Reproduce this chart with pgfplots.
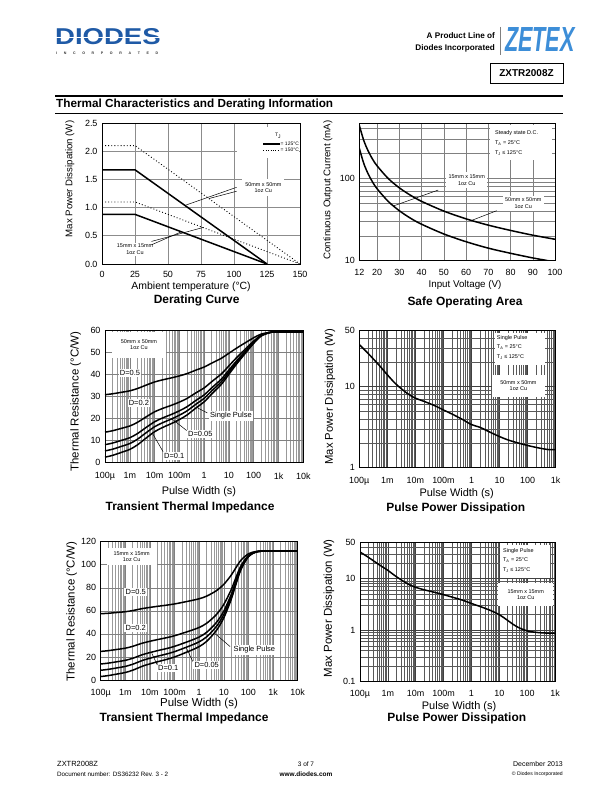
\documentclass[border=0pt]{standalone}
\usepackage{fontspec}
\setmainfont{Liberation Sans}
\usepackage{pgfplots}
\pgfplotsset{compat=1.18}

\definecolor{diodesblue}{HTML}{1F5AA6}
\definecolor{zetexblue}{HTML}{3D8ED8}
\newcommand{\fsz}[1]{\fontsize{#1}{#1}\selectfont}

\pgfplotsset{
  sheet/.style={
    scale only axis, anchor=south west,
    clip mode=individual,
    axis line style={line width=0.8bp},
    major tick length=0pt, minor tick length=0pt,
    /pgf/number format/assume math mode=true,
    every tick label/.append style={font=\fsz{9}},
    yticklabel style={xshift=-1bp},
    grid=both,
    xlabel style={anchor=center},
    ylabel style={anchor=center},
  },
  minorA/.style={minor xtick={2e-4,3e-4,4e-4,5e-4,6e-4,7e-4,8e-4,9e-4,2e-3,3e-3,4e-3,5e-3,6e-3,7e-3,8e-3,9e-3,0.02,0.03,0.04,0.05,0.06,0.07,0.08,0.09,0.2,0.3,0.4,0.5,0.6,0.7,0.8,0.9,2,3,4,5,6,7,8,9,20,30,40,50,60,70,80,90,200,300,400,500,600,700,800,900,2000,3000,4000,5000,6000,7000,8000,9000}},
  minorB/.style={minor xtick={2e-4,3e-4,4e-4,5e-4,6e-4,7e-4,8e-4,9e-4,2e-3,3e-3,4e-3,5e-3,6e-3,7e-3,8e-3,9e-3,0.02,0.03,0.04,0.05,0.06,0.07,0.08,0.09,0.2,0.3,0.4,0.5,0.6,0.7,0.8,0.9,2,3,4,5,6,7,8,9,20,30,40,50,60,70,80,90,200,300,400,500,600,700,800,900}},
}
\tikzset{
  curve/.style={line width=1.5bp, black, no marks, smooth},
  lbl/.style={fill=white, inner sep=1.5bp, align=center, font=\fontsize{5.5}{6.6}\selectfont},
  dlbl/.style={fill=white, inner sep=1.2bp, font=\fsz{7.5}},
  lead/.style={line width=0.5bp, black},
  ttl/.style={font=\bfseries\fsz{12}},
}

\begin{document}
\begin{tikzpicture}
\useasboundingbox (0,0) rectangle (612bp,792bp);
\fill[white] (0,0) rectangle (612bp,792bp);

\begin{scope}[x=1bp,y=-1bp,yshift=792bp]
% header
\node[anchor=west, inner sep=0, text=diodesblue, font=\bfseries\fsz{23}, xscale=1.2] at (55,37) {DIODES};
\draw[white, line width=0.8bp] (55,37.5) -- (162,37.5);
\node[anchor=west, inner sep=0, text=black!80, font=\bfseries\fsz{3.6}] at (56,53) {\makebox[102bp][s]{I N C O R P O R A T E D}};
\draw[black!50, line width=0.6bp] (500,27) -- (500,55);
\node[anchor=west, inner sep=0, text=zetexblue, font=\bfseries\itshape\fsz{35}, xscale=0.62] at (505,40) {ZETEX};
\node[anchor=east, inner sep=0, font=\bfseries\fsz{8.2}] at (495,36) {A Product Line of};
\node[anchor=east, inner sep=0, font=\bfseries\fsz{8.2}] at (495,48) {Diodes Incorporated};
\draw[line width=0.8bp] (490,63) rectangle (563,83);
\node[inner sep=0, font=\bfseries\fsz{10}] at (526.5,73) {ZXTR2008Z};
\draw[line width=1.3bp] (55,96) -- (563,96);
\draw[line width=0.7bp] (55,113) -- (563,113);
\node[anchor=west, inner sep=0, font=\bfseries\fsz{11.8}] at (56,104.5) {Thermal Characteristics and Derating Information};
% footer
\node[anchor=west, inner sep=0, font=\fsz{7.5}] at (57,764) {ZXTR2008Z};
\node[anchor=west, inner sep=0, font=\fsz{6.3}] at (57,774) {Document number: DS36232 Rev. 3 - 2};
\node[inner sep=0, font=\fsz{6.5}] at (306,764) {3 of 7};
\node[inner sep=0, font=\bfseries\fsz{6.5}] at (306,774) {www.diodes.com};
\node[anchor=east, inner sep=0, font=\fsz{7}] at (563,764) {December 2013};
\node[anchor=east, inner sep=0, font=\fsz{5.1}] at (563,774) {\textcopyright{} Diodes Incorporated};
\end{scope}

% ---------- Chart 1: Derating curve
\begin{axis}[sheet, at={(102bp,528bp)}, width=198bp, height=141bp,
  xmin=0, xmax=150, ymin=0, ymax=2.5,
  xtick={0,25,50,75,100,125,150},
  ytick={0,0.5,1,1.5,2,2.5}, yticklabels={0.0,0.5,1.0,1.5,2.0,2.5},
  grid=major,
  major grid style={line width=0.6bp, black!45},
  xticklabel style={yshift=-3.5bp},
  xlabel={Ambient temperature (°C)},
  xlabel style={at={(axis description cs:0.45,-0.163)}, font=\fsz{10.5}},
  ylabel={Max Power Dissipation (W)},
  ylabel style={at={(axis description cs:-0.162,0.603)}, font=\fsz{9.7}},
]
\fill[white] (axis description cs:0.682,0.752) rectangle (axis description cs:0.993,0.975);
\node[font=\fsz{5}] at (axis description cs:0.89,0.908) {T\textsubscript{J}};
\draw[line width=1.5bp] (axis description cs:0.815,0.851) -- (axis description cs:0.899,0.851);
\node[anchor=west, inner sep=0.5bp, font=\fsz{5}] at (axis description cs:0.899,0.851) {= 125°C};
\draw[line width=0.8bp, dash pattern=on 0.8bp off 1.6bp] (axis description cs:0.815,0.809) -- (axis description cs:0.899,0.809);
\node[anchor=west, inner sep=0.5bp, font=\fsz{5}] at (axis description cs:0.899,0.809) {= 150°C};
\node[lbl, inner sep=3bp] at (axis description cs:0.815,0.541) {50mm x 50mm\\1oz Cu};
\node[lbl] at (axis description cs:0.167,0.104) {15mm x 15mm\\1oz Cu};
\draw[lead] (axis cs:102,1.36) -- (axis cs:63,1.04);
\draw[lead] (axis cs:102,1.29) -- (axis cs:81,1.16);
\draw[lead] (axis cs:37.5,0.40) -- (axis cs:77,0.65);
\draw[lead] (axis cs:37.5,0.34) -- (axis cs:60,0.57);
\addplot[curve, sharp plot] coordinates {(0,1.67) (25,1.67) (125,0)};
\addplot[curve, sharp plot] coordinates {(0,0.88) (25,0.88) (125,0)};
\addplot[black, line width=0.9bp, dash pattern=on 0.9bp off 2.2bp, sharp plot, no marks] coordinates {(0,2.1) (25,2.1) (150,0)};
\addplot[black, line width=0.9bp, dash pattern=on 0.9bp off 2.2bp, sharp plot, no marks] coordinates {(0,1.1) (25,1.1) (150,0)};
\node[ttl] at (axis description cs:0.478,-0.255) {Derating Curve};
\end{axis}

% ---------- Chart 2: SOA
\begin{axis}[sheet, at={(359.3bp,531.3bp)}, width=195.7bp, height=137.4bp,
  xmin=12, xmax=100, ymode=log, ymin=10, ymax=465,
  xtick={12,20,30,40,50,60,70,80,90,100},
  ytick={10,100}, yticklabels={10,100},
  minor ytick={20,30,40,50,60,70,80,90,200,300,400},
  major grid style={line width=0.5bp, black!50},
  minor grid style={line width=0.5bp, black!50},
  xticklabel style={yshift=-5bp},
  xlabel={Input Voltage (V)},
  xlabel style={at={(axis description cs:0.54,-0.18)}, font=\fsz{9.8}},
  ylabel={Continuous Output Current (mA)},
  ylabel style={at={(axis description cs:-0.161,0.515)}, font=\fsz{9.7}},
]
\fill[white] (axis description cs:0.67,0.73) rectangle (axis description cs:0.985,0.985);
\node[anchor=north west, inner sep=0, align=left, font=\fontsize{5.5}{10}\selectfont] at (axis description cs:0.693,0.951) {Steady state D.C.\\T\textsubscript{A} = 25°C\\T\textsubscript{J} ≤ 125°C};
\node[lbl, inner sep=2.5bp] at (axis description cs:0.549,0.587) {15mm x 15mm\\1oz Cu};
\node[lbl, inner sep=2.5bp] at (axis description cs:0.838,0.418) {50mm x 50mm\\1oz Cu};
\draw[lead] (axis cs:47.5,72) -- (axis cs:27.3,46.1);
\draw[lead] (axis cs:73.8,40.4) -- (axis cs:62.5,30.8);
\addplot[curve] coordinates {(12,439) (14,288) (16,214) (18,170) (20,141.5) (25,99.4) (30,76.6) (35,62.3) (40,52.5) (50,40) (60,32.2) (70,27) (80,23.3) (90,20.4) (100,18.2)};
\addplot[curve] coordinates {(12,231.6) (14,151.7) (16,112.8) (18,89.8) (20,74.6) (25,52.4) (30,40.4) (35,32.8) (40,27.7) (50,21.1) (60,17) (70,14.2) (80,12.3) (90,10.8) (96,10.1) (100,9.6)};
\node[ttl] at (axis description cs:0.54,-0.306) {Safe Operating Area};
\end{axis}

% ---------- Chart 3: Transient thermal impedance 50x50
\begin{axis}[sheet, minorA, at={(105bp,329.3bp)}, width=198.3bp, height=132.7bp,
  xmode=log, xmin=1e-4, xmax=1e4, ymin=0, ymax=60,
  xtick={1e-4,1e-3,1e-2,1e-1,1,10,100,1000,10000},
  xticklabels={100µ,1m,10m,100m,1,10,100,1k,10k},
  ytick={0,10,20,30,40,50,60},
  major grid style={line width=0.55bp, black!50},
  minor grid style={line width=0.6bp, black!40},
  xticklabel style={yshift=-6.5bp},
  xlabel={Pulse Width (s)},
  xlabel style={at={(axis description cs:0.474,-0.215)}, font=\fsz{11}},
  ylabel={Thermal Resistance (°C/W)},
  ylabel style={at={(axis description cs:-0.148,0.46)}, font=\fsz{11.5}},
]
\fill[white] (axis description cs:0.034,0.787) rectangle (axis description cs:0.31,0.987);
\node[align=center, inner sep=0, font=\fontsize{5.5}{6.6}\selectfont] at (axis description cs:0.171,0.89) {50mm x 50mm\\1oz Cu};
\node[dlbl] at (axis description cs:0.126,0.674) {D=0.5};
\node[dlbl] at (axis description cs:0.171,0.448) {D=0.2};
\node[dlbl] at (axis description cs:0.635,0.352) {Single Pulse};
\node[dlbl] at (axis description cs:0.481,0.216) {D=0.05};
\node[dlbl] at (axis description cs:0.349,0.050) {D=0.1};
\draw[lead] (axis cs:1.35,22.5) -- (axis cs:0.5,25);
\draw[lead] (axis cs:0.2,14.5) -- (axis cs:0.05,19.8);
\draw[lead] (axis cs:0.022,5) -- (axis cs:0.008,13.5);
\addplot[curve] coordinates {(1e-4,2.5) (2e-4,3.3) (5e-4,4.8) (1e-3,6) (2e-3,8) (5e-3,11.5) (1e-2,14) (2e-2,15.8) (5e-2,17.8) (0.1,19.5) (0.2,21.5) (0.5,25) (1,27.5) (2,31) (5,35.5) (10,40) (20,44.5) (50,50) (100,54) (200,57.3) (500,59) (1000,59) (10000,59)};
\addplot[curve] coordinates {(1e-4,5.33) (2e-4,6.09) (5e-4,7.51) (1e-3,8.65) (2e-3,10.55) (5e-3,13.88) (1e-2,16.25) (2e-2,17.96) (5e-2,19.86) (0.1,21.48) (0.2,23.38) (0.5,26.7) (1,29.08) (2,32.4) (5,36.68) (10,40.95) (20,45.23) (50,50.45) (100,54.25) (200,57.39) (500,59) (1000,59) (10000,59)};
\addplot[curve] coordinates {(1e-4,8.15) (2e-4,8.87) (5e-4,10.22) (1e-3,11.3) (2e-3,13.1) (5e-3,16.25) (1e-2,18.5) (2e-2,20.12) (5e-2,21.92) (0.1,23.45) (0.2,25.25) (0.5,28.4) (1,30.65) (2,33.8) (5,37.85) (10,41.9) (20,45.95) (50,50.9) (100,54.5) (200,57.47) (500,59) (1000,59) (10000,59)};
\addplot[curve] coordinates {(1e-4,13.8) (2e-4,14.44) (5e-4,15.64) (1e-3,16.6) (2e-3,18.2) (5e-3,21) (1e-2,23) (2e-2,24.44) (5e-2,26.04) (0.1,27.4) (0.2,29) (0.5,31.8) (1,33.8) (2,36.6) (5,40.2) (10,43.8) (20,47.4) (50,51.8) (100,55) (200,57.64) (500,59) (1000,59) (10000,59)};
\addplot[curve] coordinates {(1e-4,30.75) (2e-4,31.15) (5e-4,31.9) (1e-3,32.5) (2e-3,33.5) (5e-3,35.25) (1e-2,36.5) (2e-2,37.4) (5e-2,38.4) (0.1,39.25) (0.2,40.25) (0.5,42) (1,43.25) (2,45) (5,47.25) (10,49.5) (20,51.75) (50,54.5) (100,56.5) (200,58.15) (500,59) (1000,59) (10000,59)};
\node[ttl] at (axis description cs:0.429,-0.336) {Transient Thermal Impedance};
\end{axis}

% ---------- Chart 4: Pulse power dissipation 50x50
\begin{axis}[sheet, minorB, at={(359.3bp,324.3bp)}, width=196.4bp, height=137.7bp,
  xmode=log, ymode=log, xmin=1e-4, xmax=1e3, ymin=1, ymax=50,
  xtick={1e-4,1e-3,1e-2,1e-1,1,10,100,1000},
  xticklabels={100µ,1m,10m,100m,1,10,100,1k},
  ytick={1,10,50}, yticklabels={1,10,50},
  minor ytick={2,3,4,5,6,7,8,9,20,30,40},
  major grid style={line width=0.45bp, black!75},
  minor grid style={line width=0.4bp, black!65},
  xticklabel style={yshift=-6.2bp},
  xlabel={Pulse Width (s)},
  xlabel style={at={(axis description cs:0.496,-0.185)}, font=\fsz{11}},
  ylabel={Max Power Dissipation (W)},
  ylabel style={at={(axis description cs:-0.149,0.516)}, font=\fsz{11.3}},
]
\fill[white] (axis description cs:0.691,0.746) rectangle (axis description cs:0.9455,0.978);
\node[anchor=north west, inner sep=0, align=left, font=\fontsize{5.5}{9.7}\selectfont] at (axis description cs:0.70,0.964) {Single Pulse\\T\textsubscript{A} = 25°C\\T\textsubscript{J} ≤ 125°C};
\fill[white] (axis description cs:0.675,0.513) rectangle (axis description cs:0.945,0.673);
\node[align=center, inner sep=0, font=\fontsize{5.5}{6.6}\selectfont] at (axis description cs:0.81,0.595) {50mm x 50mm\\1oz Cu};
\addplot[curve] coordinates {(1e-4,33) (2e-4,26) (5e-4,18.5) (1e-3,14) (2e-3,10.8) (5e-3,8.3) (1e-2,7.2) (2e-2,6.6) (5e-2,5.8) (0.1,5.15) (0.2,4.6) (0.5,3.9) (1,3.4) (2,3.15) (5,2.7) (10,2.42) (20,2.2) (50,2.0) (100,1.88) (200,1.78) (500,1.68) (1000,1.67)};
\node[ttl] at (axis description cs:0.491,-0.295) {Pulse Power Dissipation};
\end{axis}

% ---------- Chart 5: Transient thermal impedance 15x15
\begin{axis}[sheet, minorA, at={(100.7bp,112bp)}, width=197bp, height=138.3bp,
  xmode=log, xmin=1e-4, xmax=1e4, ymin=0, ymax=120,
  xtick={1e-4,1e-3,1e-2,1e-1,1,10,100,1000,10000},
  xticklabels={100µ,1m,10m,100m,1,10,100,1k,10k},
  ytick={0,20,40,60,80,100,120},
  major grid style={line width=0.55bp, black!50},
  minor grid style={line width=0.6bp, black!40},
  xticklabel style={yshift=-5.6bp},
  xlabel={Pulse Width (s)},
  xlabel style={at={(axis description cs:0.499,-0.168)}, font=\fsz{11.5}},
  ylabel={Thermal Resistance (°C/W)},
  ylabel style={at={(axis description cs:-0.147,0.494)}, font=\fsz{11.5}},
]
\fill[white] (axis description cs:0.030,0.832) rectangle (axis description cs:0.284,0.952);
\node[align=center, inner sep=0, font=\fontsize{5.5}{6.6}\selectfont] at (axis description cs:0.157,0.892) {15mm x 15mm\\1oz Cu};
\node[dlbl] at (axis description cs:0.178,0.638) {D=0.5};
\node[dlbl] at (axis description cs:0.178,0.374) {D=0.2};
\node[dlbl] at (axis description cs:0.780,0.217) {Single Pulse};
\node[dlbl] at (axis description cs:0.538,0.108) {D=0.05};
\node[dlbl] at (axis description cs:0.343,0.085) {D=0.1};
\draw[lead] (axis cs:18,29) -- (axis cs:4,41);
\draw[lead] (axis cs:0.55,16) -- (axis cs:0.3,28);
\draw[lead] (axis cs:0.02,13) -- (axis cs:0.012,23);
\addplot[curve] coordinates {(1e-4,3) (2e-4,3.8) (5e-4,5.3) (1e-3,6.5) (2e-3,8.5) (5e-3,12) (1e-2,14) (2e-2,15.8) (5e-2,18) (0.1,20) (0.2,22.5) (0.5,26) (1,29) (2,33.5) (5,43) (10,54) (20,70) (30,82) (50,96) (100,107) (200,111) (500,112) (1000,112) (10000,112)};
\addplot[curve] coordinates {(1e-4,8.45) (2e-4,9.21) (5e-4,10.64) (1e-3,11.78) (2e-3,13.68) (5e-3,17) (1e-2,18.9) (2e-2,20.61) (5e-2,22.7) (0.1,24.6) (0.2,26.98) (0.5,30.3) (1,33.15) (2,37.43) (5,46.45) (10,56.9) (20,72.1) (30,83.5) (50,96.8) (100,107.25) (200,111.05) (500,112) (1000,112) (10000,112)};
\addplot[curve] coordinates {(1e-4,13.9) (2e-4,14.62) (5e-4,15.97) (1e-3,17.05) (2e-3,18.85) (5e-3,22) (1e-2,23.8) (2e-2,25.42) (5e-2,27.4) (0.1,29.2) (0.2,31.45) (0.5,34.6) (1,37.3) (2,41.35) (5,49.9) (10,59.8) (20,74.2) (30,85) (50,97.6) (100,107.5) (200,111.1) (500,112) (1000,112) (10000,112)};
\addplot[curve] coordinates {(1e-4,24.8) (2e-4,25.44) (5e-4,26.64) (1e-3,27.6) (2e-3,29.2) (5e-3,32) (1e-2,33.6) (2e-2,35.04) (5e-2,36.8) (0.1,38.4) (0.2,40.4) (0.5,43.2) (1,45.6) (2,49.2) (5,56.8) (10,65.6) (20,78.4) (30,88) (50,99.2) (100,108) (200,111.2) (500,112) (1000,112) (10000,112)};
\addplot[curve] coordinates {(1e-4,57.5) (2e-4,57.9) (5e-4,58.65) (1e-3,59.25) (2e-3,60.25) (5e-3,62) (1e-2,63) (2e-2,63.9) (5e-2,65) (0.1,66) (0.2,67.25) (0.5,69) (1,70.5) (2,72.75) (5,77.5) (10,83) (20,91) (30,97) (50,104) (100,109.5) (200,111.5) (500,112) (1000,112) (10000,112)};
\node[ttl] at (axis description cs:0.423,-0.277) {Transient Thermal Impedance};
\end{axis}

% ---------- Chart 6: Pulse power dissipation 15x15
\begin{axis}[sheet, minorB, at={(360bp,110.3bp)}, width=195bp, height=139bp,
  xmode=log, ymode=log, xmin=1e-4, xmax=1e3, ymin=0.1, ymax=50,
  xtick={1e-4,1e-3,1e-2,1e-1,1,10,100,1000},
  xticklabels={100µ,1m,10m,100m,1,10,100,1k},
  ytick={0.1,1,10,50}, yticklabels={0.1,1,10,50},
  minor ytick={0.2,0.3,0.4,0.5,0.6,0.7,0.8,0.9,2,3,4,5,6,7,8,9,20,30,40},
  major grid style={line width=0.45bp, black!75},
  minor grid style={line width=0.4bp, black!65},
  xticklabel style={yshift=-5bp},
  xlabel={Pulse Width (s)},
  xlabel style={at={(axis description cs:0.508,-0.178)}, font=\fsz{11}},
  ylabel={Max Power Dissipation (W)},
  ylabel style={at={(axis description cs:-0.159,0.528)}, font=\fsz{11.5}},
]
\fill[white] (axis description cs:0.718,0.746) rectangle (axis description cs:0.974,0.983);
\node[anchor=north west, inner sep=0, align=left, font=\fontsize{5.5}{9.7}\selectfont] at (axis description cs:0.733,0.962) {Single Pulse\\T\textsubscript{A} = 25°C\\T\textsubscript{J} ≤ 125°C};
\fill[white] (axis description cs:0.709,0.545) rectangle (axis description cs:0.99,0.708);
\node[align=center, inner sep=0, font=\fontsize{5.5}{6.6}\selectfont] at (axis description cs:0.85,0.626) {15mm x 15mm\\1oz Cu};
\addplot[curve] coordinates {(1e-4,33) (2e-4,26) (5e-4,18.5) (1e-3,14.5) (2e-3,11) (5e-3,8) (1e-2,6.8) (2e-2,6.1) (5e-2,5.4) (0.1,4.9) (0.2,4.4) (0.5,3.8) (1,3.3) (2,2.9) (5,2.4) (10,2.0) (20,1.55) (30,1.32) (50,1.12) (100,0.97) (200,0.91) (500,0.88) (1000,0.88)};
\node[ttl] at (axis description cs:0.496,-0.263) {Pulse Power Dissipation};
\end{axis}
\end{tikzpicture}
\end{document}
